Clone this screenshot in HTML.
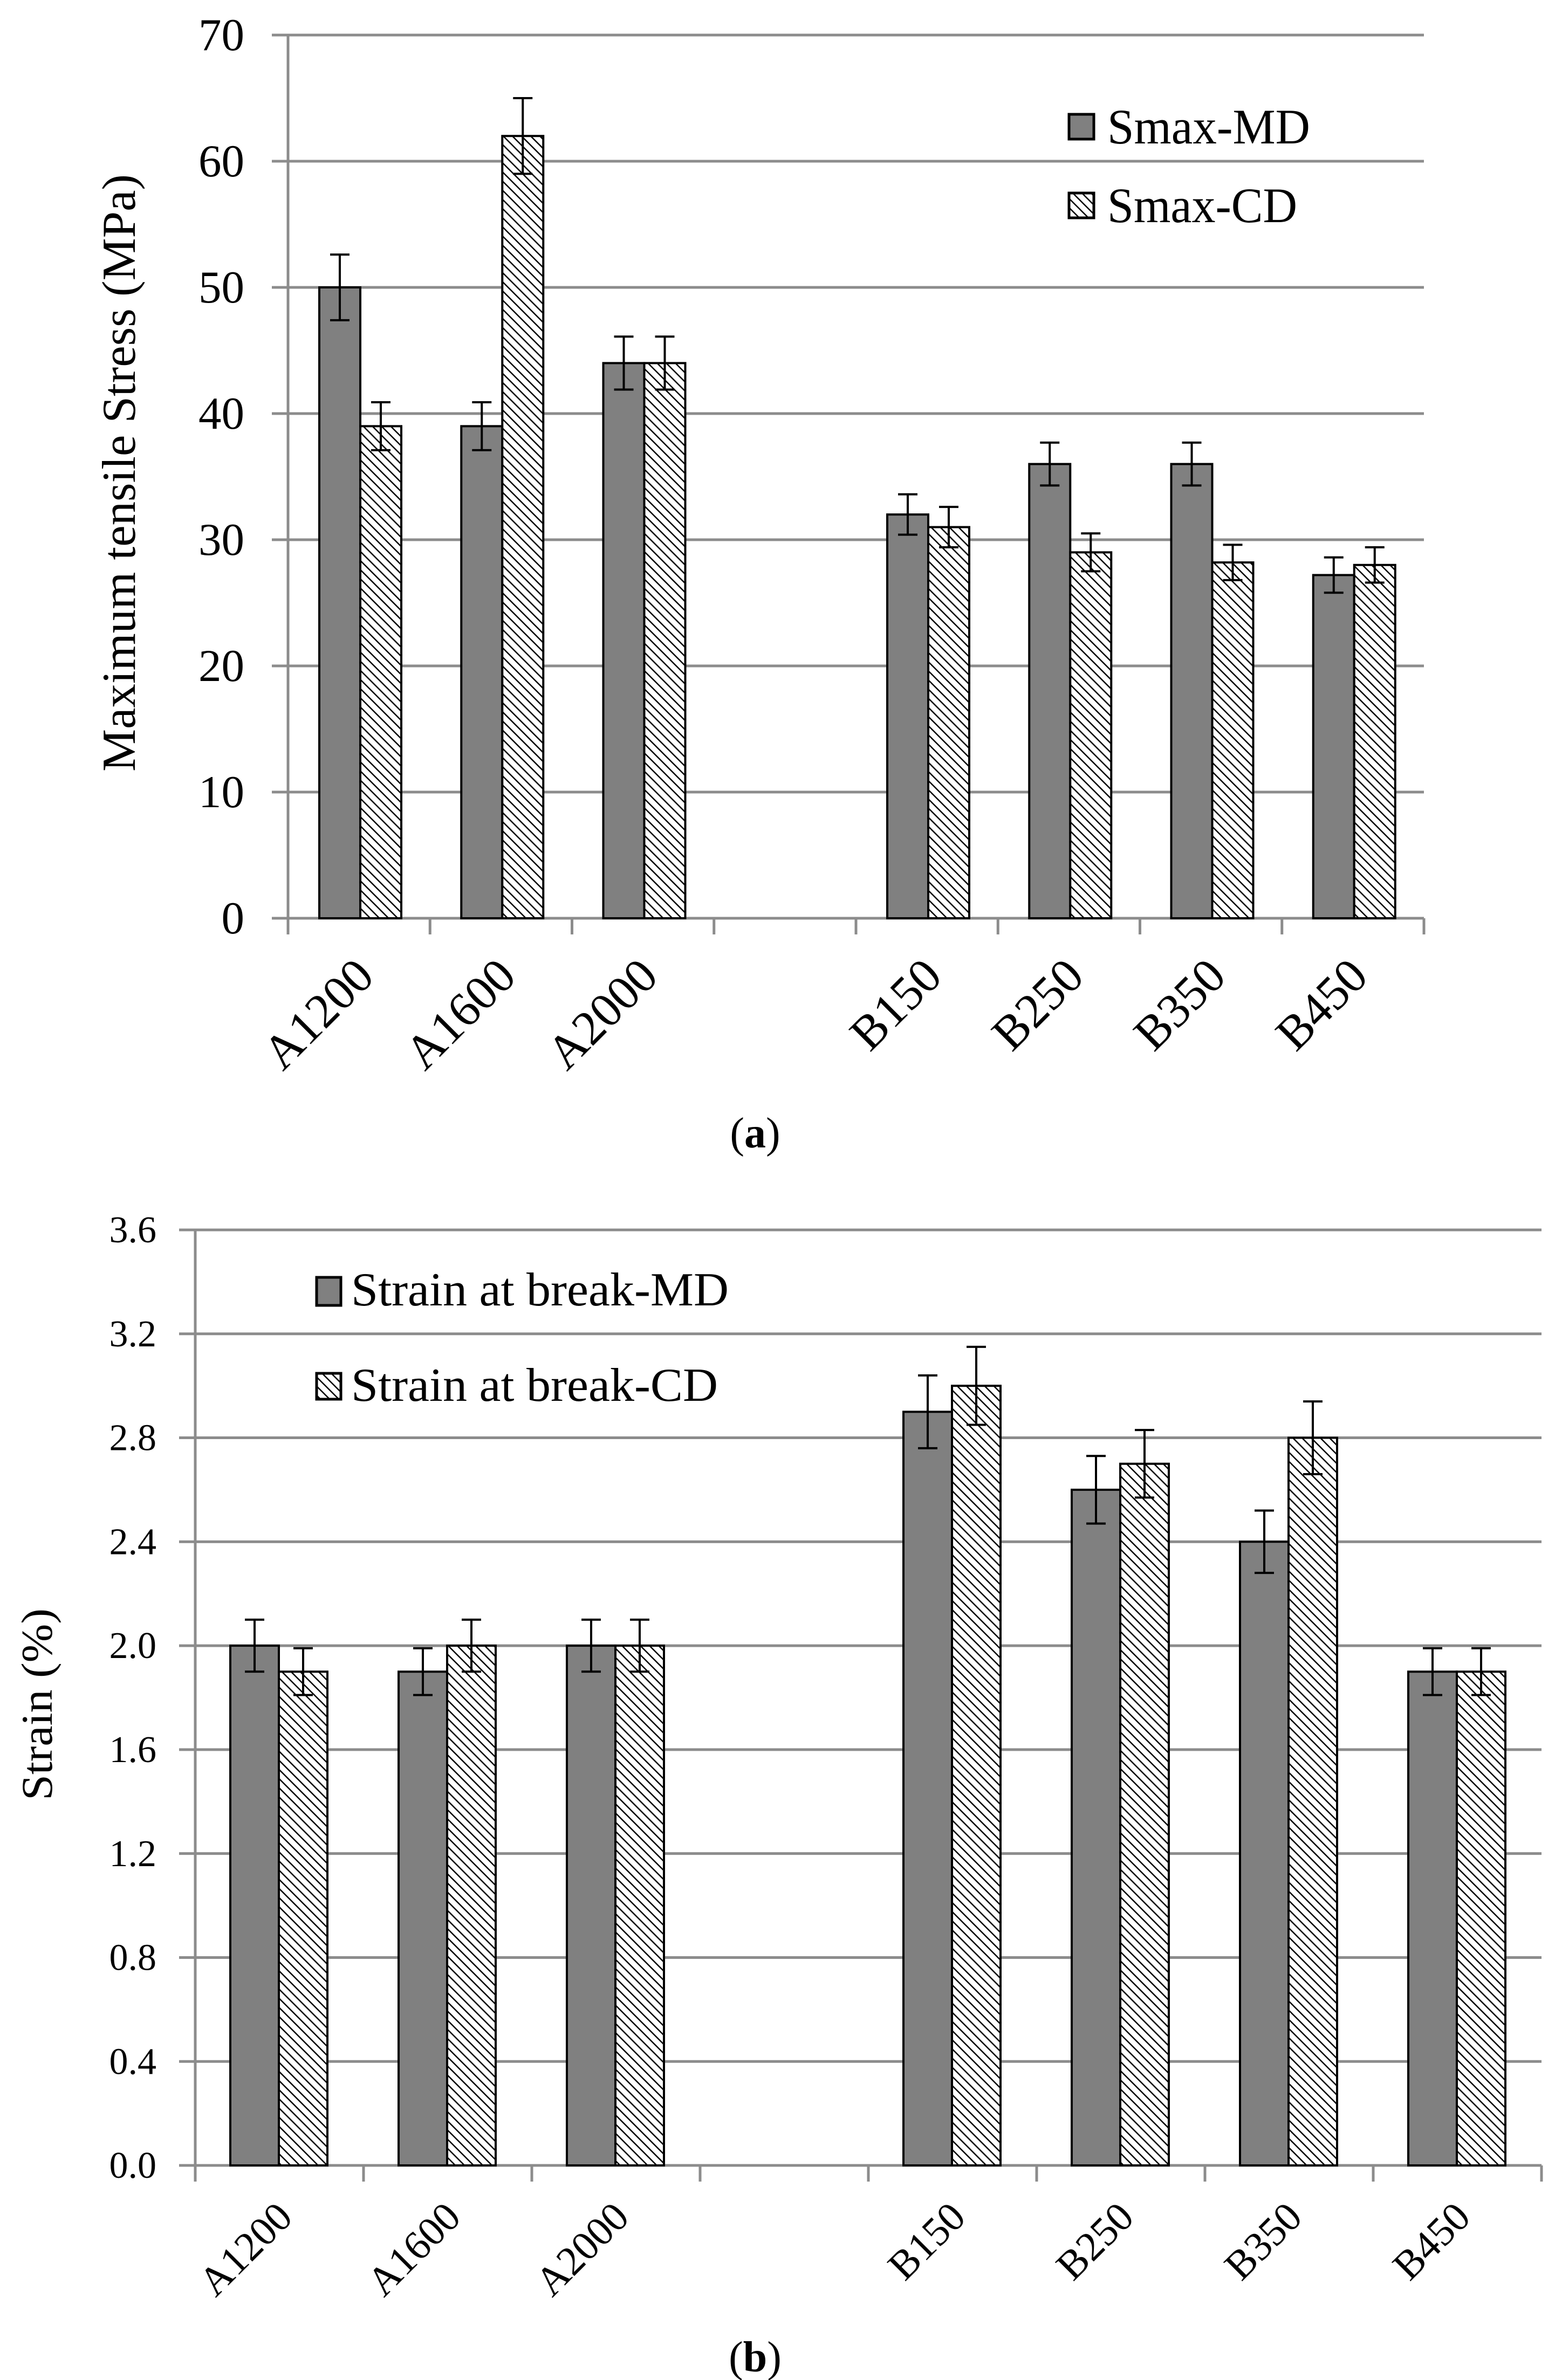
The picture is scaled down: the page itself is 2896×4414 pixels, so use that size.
<!DOCTYPE html>
<html><head><meta charset="utf-8"><style>
html,body{margin:0;padding:0;background:#fff;}
svg{display:block;font-family:"Liberation Serif",serif;}
</style></head><body>
<svg id="fig" width="2896" height="4414" viewBox="0 0 2896 4414" xmlns="http://www.w3.org/2000/svg">
<defs>
<pattern id="hatch" patternUnits="userSpaceOnUse" width="12" height="12" patternTransform="rotate(-45)">
<rect width="12" height="12" fill="#fff"/>
<line x1="0" y1="0" x2="0" y2="12" stroke="#000" stroke-width="5"/>
</pattern>
</defs>
<g id="chartA"></g>
<g id="chartB"></g>
<text x="1400" y="2128" font-size="80" text-anchor="middle">(<tspan font-weight="bold">a</tspan>)</text>
<text x="1400" y="4398" font-size="80" text-anchor="middle">(<tspan font-weight="bold">b</tspan>)</text>
</svg>
<script>
const categories = ["A1200","A1600","A2000","","B150","B250","B350","B450"];
const stressMD = [50,39,44,null,32,36,36,27.2];
const stressCD = [39,62,44,null,31,29,28.2,28];
const stressMDErr = [2.6,1.9,2.1,null,1.6,1.7,1.7,1.4];
const stressCDErr = [1.9,3.0,2.1,null,1.6,1.5,1.4,1.4];
const stressTicks = [0,10,20,30,40,50,60,70];
const strainMD = [2.0,1.9,2.0,null,2.9,2.6,2.4,1.9];
const strainCD = [1.9,2.0,2.0,null,3.0,2.7,2.8,1.9];
const strainMDErr = [0.1,0.09,0.1,null,0.14,0.13,0.12,0.09];
const strainCDErr = [0.09,0.1,0.1,null,0.15,0.13,0.14,0.09];
const strainTicks = ["0.0","0.4","0.8","1.2","1.6","2.0","2.4","2.8","3.2","3.6"];

const NS="http://www.w3.org/2000/svg";
function mk(parent,tag,attrs,text){const e=document.createElementNS(NS,tag);for(const k in attrs)e.setAttribute(k,attrs[k]);if(text!==undefined)e.textContent=text;parent.appendChild(e);return e;}

function draw(g,c){
  const y=v=>c.y0-(v-c.min)/(c.max-c.min)*(c.y0-c.yTop);
  const slot=(c.right-c.left)/categories.length;
  const x=i=>c.left+i*slot;
  c.ticks.forEach(t=>{
    const v=parseFloat(t);
    const ln=mk(g,'line',{x1:c.left-30,x2:c.right,y1:y(v),y2:y(v),stroke:'#8c8c8c','stroke-width':5});
    
    
    const tl=mk(g,'text',{x:c.tickX,y:y(v)+c.tickFont*0.33,'font-size':c.tickFont,'text-anchor':'end'},t);
    
    
  });
  const ax=mk(g,'line',{x1:c.left,x2:c.left,y1:c.yTop,y2:c.y0+30,stroke:'#8c8c8c','stroke-width':5});
  
  
  for(let i=0;i<=categories.length;i++){
    const tk=mk(g,'line',{x1:x(i),x2:x(i),y1:c.y0,y2:c.y0+30,stroke:'#8c8c8c','stroke-width':5});
    
    
  }
  categories.forEach((cat,i)=>{
    if(c.md[i]==null)return;
    const bx=x(i)+c.off;
    [[c.md,c.mdE,'#808080','md'],[c.cd,c.cdE,'url(#hatch)','cd']].forEach((s,k)=>{
      const v=s[0][i],e=s[1][i],xx=bx+k*c.bw;
      const r=mk(g,'rect',{x:xx,y:y(v),width:c.bw,height:c.y0-y(v),fill:s[2],stroke:'#000','stroke-width':4});
      
      
      const cx=xx+c.bw/2;
      const eb=mk(g,'path',{d:`M${cx},${y(v+e)}V${y(v-e)}M${cx-18},${y(v+e)}H${cx+18}M${cx-18},${y(v-e)}H${cx+18}`,stroke:'#000','stroke-width':4,fill:'none'});
      
      
    });
    const ax2=x(i)+slot/2+c.lblDx, ay=c.y0+c.lblDy;
    const lt=mk(g,'text',{x:ax2,y:ay,'font-size':c.lblFont,'text-anchor':'end',transform:`rotate(-45 ${ax2} ${ay})`},cat);
    
    
  });
  const yl=mk(g,'text',{x:c.ylX,y:c.ylY,'font-size':c.ylFont,'text-anchor':'middle',textLength:c.ylLen,lengthAdjust:'spacingAndGlyphs',transform:`rotate(-90 ${c.ylX} ${c.ylY})`},c.ylabel);
  
  
  c.legend.forEach((L,k)=>{
    const sq=mk(g,'rect',{x:c.lgX,y:L.sy,width:c.lgW,height:L.sh,fill:k?'url(#hatch)':'#808080',stroke:'#000','stroke-width':5});
    
    
    const tx=mk(g,'text',{x:c.lgTX,y:L.by,'font-size':c.lgFont,textLength:L.len,lengthAdjust:'spacingAndGlyphs'},L.t);
    
    
  });
}

draw(document.getElementById('chartA'),{
  min:0,max:70,y0:1703,yTop:65,left:534,right:2640,ticks:stressTicks.map(String),
  md:stressMD,cd:stressCD,mdE:stressMDErr,cdE:stressCDErr,off:58,bw:76,
  tickX:453,tickFont:85,lblFont:90,lblDx:32,lblDy:112,
  ylabel:"Maximum  tensile Stress (MPa)",ylX:250,ylY:877,ylFont:88,ylLen:1108,
  lgX:1982,lgW:46,lgTX:2053,lgFont:92,
  legend:[{t:"Smax-MD",sy:212,sh:46,by:266,len:376},{t:"Smax-CD",sy:358,sh:46,by:412,len:352}]
});
draw(document.getElementById('chartB'),{
  min:0,max:3.6,y0:4016,yTop:2281,left:362,right:2858,ticks:strainTicks,
  md:strainMD,cd:strainCD,mdE:strainMDErr,cdE:strainCDErr,off:65,bw:90,
  tickX:290,tickFont:70,lblFont:76,lblDx:28,lblDy:100,
  ylabel:"Strain (%)",ylX:96,ylY:3161,ylFont:82,ylLen:356,
  lgX:587,lgW:45,lgTX:651,lgFont:88,
  legend:[{t:"Strain at break-MD",sy:2369,sh:52,by:2421,len:700},{t:"Strain at break-CD",sy:2547,sh:48,by:2598,len:680}]
});
</script>
</body></html>
